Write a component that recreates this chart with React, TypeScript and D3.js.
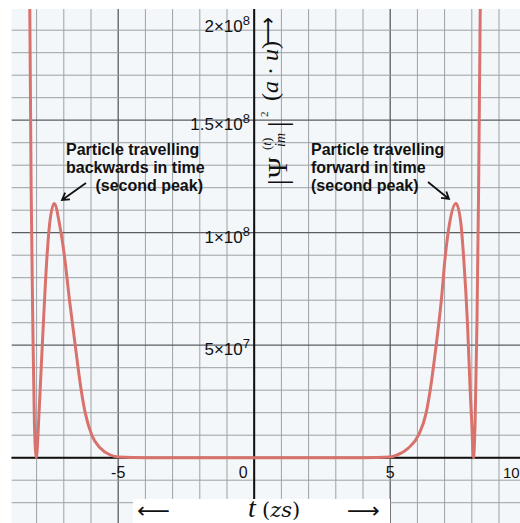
import { useMemo } from 'react';
import * as d3 from 'd3';

// time axis values (zs) and |psi|^2, in units of 1e7
const T_VALUES = [
  -8.36, -8.25, -8.2, -8.14, -8.08, -8.01, -7.93, -7.87, -7.75, -7.62, -7.52, -7.35,
  -7.16, -6.97, -6.79, -6.58, -6.36, -6.21, -5.97, -5.66, -5.29, -5.0, -4.0, -2.0,
  0, 2.0, 4.0, 5.0, 5.25, 5.67, 6.04, 6.32, 6.47, 6.69, 6.88, 7.02, 7.18, 7.42,
  7.6, 7.7, 7.84, 7.94, 8.0, 8.06, 8.12, 8.19, 8.25, 8.31, 8.4,
];
const PSI_VALUES = [
  28, 19.9, 11.9, 6.0, 1.5, 0, 1.5, 3.0, 6.0, 8.9, 10.4, 11.3,
  10.4, 8.9, 7.0, 5.0, 3.0, 1.98, 1.0, 0.43, 0.12, 0.03, 0, 0,
  0, 0, 0, 0.03, 0.12, 0.43, 1.0, 1.98, 3.0, 5.0, 7.0, 8.9, 10.4, 11.3,
  10.4, 8.9, 6.0, 3.0, 1.5, 0, 1.5, 6.0, 11.9, 19.9, 28,
];

const X_TICKS = [-5, 0, 5, 10];
const X_TICK_LABELS = ['-5', '0', '5', '10'];
const Y_TICKS = [5e7, 1e8, 1.5e8, 2e8];
const Y_TICK_MANTISSA = ['5', '1', '1.5', '2'];
const Y_TICK_EXP = ['7', '8', '8', '8'];

const W = 520;
const H = 523;
const plot = { left: 11.5, top: 9, right: 520, bottom: 523 };

const SANS = '"Liberation Sans", Arial, sans-serif';
const SERIF = '"Liberation Serif", "Times New Roman", serif';

function arrowPath(x1: number, y1: number, x2: number, y2: number, size = 8) {
  const a = Math.atan2(y2 - y1, x2 - x1);
  const p1 = [x2 - size * Math.cos(a - 0.55), y2 - size * Math.sin(a - 0.55)];
  const p2 = [x2 - size * Math.cos(a + 0.55), y2 - size * Math.sin(a + 0.55)];
  return `M${x1},${y1}L${x2},${y2}M${p1[0]},${p1[1]}L${x2},${y2}L${p2[0]},${p2[1]}`;
}

export default function App() {
  const x = d3.scaleLinear().domain([-5, 5]).range([118.2, 390.2]);
  const y = d3.scaleLinear().domain([0, 2e8]).range([457.7, 7.7]);

  const data = useMemo(() => T_VALUES.map((t, i) => ({ t, v: PSI_VALUES[i] * 1e7 })), []);

  const line = d3.line<{ t: number; v: number }>()
    .x(d => x(d.t))
    .y(d => y(d.v))
    .curve(d3.curveMonotoneX);

  const xGrid = d3.range(Math.ceil(x.invert(plot.left)), Math.floor(x.invert(plot.right)) + 1);
  const yGrid = d3.range(-3, 21).map(k => k * 1e7).filter(v => y(v) > plot.top && y(v) < plot.bottom);

  return (
    <svg width={W} height={H} style={{ position: 'absolute', left: 0, top: 0, background: '#fff' }}>
      <defs>
        <clipPath id="plotClip">
          <rect x={plot.left} y={plot.top} width={plot.right - plot.left} height={plot.bottom - plot.top} />
        </clipPath>
      </defs>
      <rect x={plot.left} y={plot.top} width={plot.right - plot.left} height={plot.bottom - plot.top} fill="#f4f7f9" />

      <g clipPath="url(#plotClip)">
        {xGrid.map(t => (
          <line key={'gx' + t} x1={x(t)} x2={x(t)} y1={plot.top} y2={plot.bottom}
            stroke={t % 5 === 0 ? '#5a5e62' : '#9ca1a5'} strokeWidth={t % 5 === 0 ? 1.3 : 1} />
        ))}
        {yGrid.map(v => (
          <line key={'gy' + v} x1={plot.left} x2={plot.right} y1={y(v)} y2={y(v)}
            stroke={Math.round(v / 1e7) % 5 === 0 ? '#5a5e62' : '#9ca1a5'}
            strokeWidth={Math.round(v / 1e7) % 5 === 0 ? 1.3 : 1} />
        ))}
      </g>

      {/* axes */}
      <line x1={plot.left} x2={plot.right} y1={y(0)} y2={y(0)} stroke="#111" strokeWidth={2} />
      <line x1={x(0)} x2={x(0)} y1={plot.top} y2={500} stroke="#111" strokeWidth={2} />

      {/* curve */}
      <g clipPath="url(#plotClip)">
        <path d={line(data) || ''} fill="none" stroke="#d9726c" strokeWidth={3} strokeLinejoin="round" />
      </g>

      {/* x tick labels */}
      {X_TICKS.map((t, i) => (
        <text key={'xt' + t} x={t === 0 ? x(t) - 11 : t === 10 ? 503 : x(t)} y={478}
          textAnchor={t === 10 ? 'start' : 'middle'} fontFamily={SANS} fontSize={t === 10 ? 15 : 16} fill="#111">
          {X_TICK_LABELS[i]}
        </text>
      ))}

      {/* y tick labels */}
      {Y_TICKS.map((v, i) => (
        <text key={'yt' + v} x={250} y={Math.max(y(v) + 10, 32)} textAnchor="end"
          fontFamily={SANS} fontSize={17} fill="#111">
          {Y_TICK_MANTISSA[i]}×10
          <tspan dy={-7} fontSize={13}>{Y_TICK_EXP[i]}</tspan>
        </text>
      ))}

      {/* y axis title */}
      <g transform="translate(287,185) rotate(-90)" fontFamily={SERIF} fill="#111">
        <text x={0} y={0} fontSize={28}>|</text>
        <text x={7} y={0} fontSize={28}>Ψ</text>
        <text x={35} y={-16} fontSize={13}>(<tspan fontStyle="italic">t</tspan>)</text>
        <text x={38} y={-2} fontSize={14} fontStyle="italic">im</text>
        <text x={58} y={0} fontSize={28}>|</text>
        <text x={68} y={-19} fontSize={11}>2</text>
        <text x={84} y={-9} fontSize={24}>
          (<tspan fontStyle="italic">a</tspan> · <tspan fontStyle="italic">u</tspan>)
        </text>
        <text x={140} y={-12} fontSize={22} fontFamily='"DejaVu Sans", sans-serif'
          textLength={28} lengthAdjust="spacingAndGlyphs">⟶</text>
      </g>

      {/* x axis title */}
      <rect x={133} y={499} width={257} height={24} fill="#fff" />
      <text x={137} y={518} fontSize={22} fontFamily='"DejaVu Sans", sans-serif' fill="#111"
        textLength={33} lengthAdjust="spacingAndGlyphs">⟵</text>
      <text x={248} y={517} fontSize={28} fontFamily={SERIF} fontStyle="italic" fill="#111">t</text>
      <text x={262} y={517} fontSize={21} fontFamily='"DejaVu Serif", serif' fill="#111">
        (<tspan fontStyle="italic">zs</tspan>)
      </text>
      <text x={347} y={518} fontSize={22} fontFamily='"DejaVu Sans", sans-serif' fill="#111"
        textLength={33} lengthAdjust="spacingAndGlyphs">⟶</text>

      {/* annotations */}
      <g fontFamily={SANS} fontSize={16} fontWeight="bold" fill="#111">
        <text x={66} y={155}>Particle travelling</text>
        <text x={66} y={173}>backwards in time</text>
        <text x={203} y={191} textAnchor="end">(second peak)</text>
        <text x={311} y={155}>Particle travelling</text>
        <text x={311} y={173}>forward in time</text>
        <text x={311} y={191}>(second peak)</text>
      </g>
      <path d={arrowPath(86, 183, 62, 200)} fill="none" stroke="#111" strokeWidth={1.8} />
      <path d={arrowPath(428, 182, 449, 199)} fill="none" stroke="#111" strokeWidth={1.8} />
    </svg>
  );
}
